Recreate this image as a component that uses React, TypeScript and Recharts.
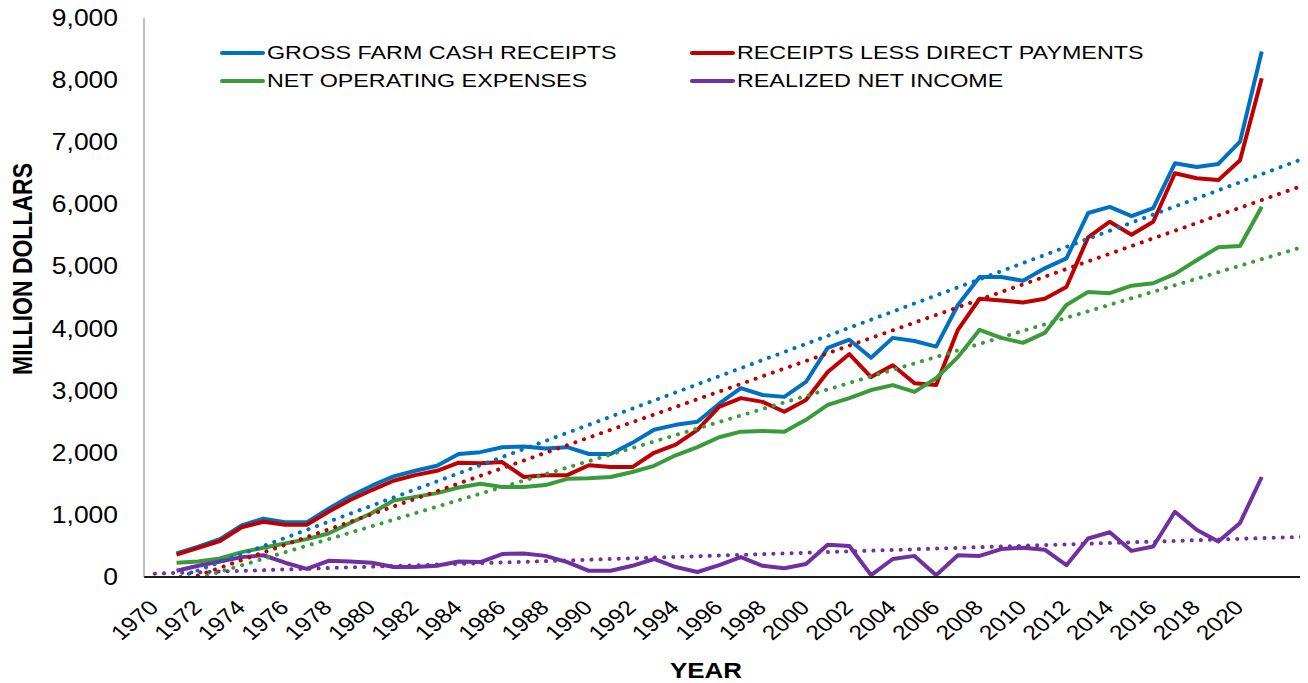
import { LineChart, Line, XAxis, YAxis, Legend } from "recharts";

// farm income series, 1971-2021, million dollars
const firstYear = 1971;
const grossReceipts = [
  380, 490, 610, 830, 940, 880, 880, 1100, 1300, 1470, 1620, 1710, 1790, 1980, 2010, 2090, 2100,
  2070, 2090, 1980, 1980, 2160, 2370, 2450, 2500, 2790, 3040, 2930, 2900, 3140, 3690, 3820, 3530,
  3850, 3800, 3710, 4380, 4830, 4830, 4770, 4970, 5130, 5860, 5960, 5810, 5940, 6660, 6600, 6650,
  7010, 8460,
];
const receiptsLessDirect = [
  360, 470, 580, 800, 890, 840, 840, 1050, 1240, 1400, 1550, 1640, 1710, 1840, 1830, 1850, 1610,
  1640, 1640, 1800, 1770, 1770, 2000, 2130, 2370, 2740, 2880, 2820, 2660, 2850, 3300, 3590, 3220,
  3410, 3120, 3090, 3980, 4480, 4450, 4420, 4480, 4670, 5470, 5720, 5510, 5720, 6500, 6420, 6390,
  6710, 8030,
];
const netOperatingExpenses = [
  230, 250, 300, 400, 470, 540, 610, 700, 870, 1030, 1230, 1290, 1350, 1440, 1500, 1450, 1450,
  1480, 1580, 1590, 1610, 1690, 1790, 1960, 2090, 2250, 2340, 2350, 2340, 2530, 2770, 2880, 3010,
  3090, 2980, 3200, 3540, 3980, 3850, 3770, 3930, 4380, 4590, 4570, 4690, 4730, 4880, 5100, 5310,
  5330, 5960,
];
const realizedNetIncome = [
  100, 180, 250, 320, 350, 230, 130, 260, 250, 230, 160, 160, 180, 250, 240, 370, 380, 340, 240,
  100, 100, 180, 290, 160, 80, 190, 320, 180, 140, 210, 520, 500, 30, 290, 340, 30, 350, 340, 450,
  470, 440, 190, 620, 720, 420, 490, 1050, 760, 570, 870, 1610,
];

const seriesNames = [
  "GROSS FARM CASH RECEIPTS",
  "RECEIPTS LESS DIRECT PAYMENTS",
  "NET OPERATING EXPENSES",
  "REALIZED NET INCOME",
];
const seriesKeys = ["gross", "less", "expenses", "income"];
const seriesColors = ["#0070C0", "#C00000", "#3A9B3A", "#7030A0"];
const allSeries = [grossReceipts, receiptsLessDirect, netOperatingExpenses, realizedNetIncome];

// axis years (trend lines run one year back, two years forward)
const axisStart = 1970;
const axisEnd = 2023;
const yearTicks = Array.from({ length: 26 }, (_, i) => 1970 + i * 2);
const valueTicks = [0, 1000, 2000, 3000, 4000, 5000, 6000, 7000, 8000, 9000];

// least squares fit, like excel's linear trendline
function linearFit(values: number[]) {
  const n = values.length;
  const xs = values.map((_, i) => firstYear + i);
  const mx = xs.reduce((a, b) => a + b, 0) / n;
  const my = values.reduce((a, b) => a + b, 0) / n;
  let sxy = 0;
  let sxx = 0;
  xs.forEach((x, i) => {
    sxy += (x - mx) * (values[i] - my);
    sxx += (x - mx) * (x - mx);
  });
  const slope = sxy / sxx;
  return (year: number) => my + slope * (year - mx);
}

const fits = allSeries.map(linearFit);

const rows = Array.from({ length: axisEnd - axisStart + 1 }, (_, i) => {
  const year = axisStart + i;
  const row: Record<string, number | null> = { year };
  allSeries.forEach((vals, s) => {
    const idx = year - firstYear;
    row[seriesKeys[s]] = idx >= 0 && idx < vals.length ? vals[idx] : null;
    row[seriesKeys[s] + "Trend"] = fits[s](year);
  });
  return row;
});

const FONT = "'Liberation Sans', Arial, sans-serif";
const PLOT_BOTTOM = 577;

const fmt = (n: number) => n.toLocaleString("en-US");

const YTick = (props: any) => (
  <text
    transform={`translate(110,${props.y + 8}) scale(1.15,1)`}
    textAnchor="end"
    fontSize={23}
    fontFamily={FONT}
    fill="#000"
  >
    {fmt(props.payload.value)}
  </text>
);

const XTick = (props: any) => (
  <text
    transform={`translate(${props.x + 5},${PLOT_BOTTOM + 32}) scale(1.2,1) rotate(-45)`}
    textAnchor="end"
    fontSize={20.5}
    fontFamily={FONT}
    fill="#000"
  >
    {props.payload.value}
  </text>
);

const yearTitle = () => (
  <text
    transform={`translate(698,678) scale(1.18,1)`}
    textAnchor="middle"
    fontSize={22}
    fontWeight="bold"
    fontFamily={FONT}
    fill="#000"
  >
    YEAR
  </text>
);

const valueTitle = () => (
  <text
    transform={`translate(24,269) scale(1.2,1) rotate(-90)`}
    textAnchor="middle"
    fontSize={23}
    fontWeight="bold"
    fontFamily={FONT}
    fill="#000"
  >
    MILLION DOLLARS
  </text>
);

const LegendBox = () => {
  const cols = [214, 684];
  const rowsY = [53, 81];
  return (
    <svg width={1300} height={110} style={{ display: "block" }}>
      {seriesNames.map((name, i) => {
        const x = cols[i % 2];
        const y = rowsY[Math.floor(i / 2)];
        return (
          <g key={name}>
            <line
              x1={x}
              x2={x + 41}
              y1={y}
              y2={y}
              stroke={seriesColors[i]}
              strokeWidth={4}
              strokeLinecap="round"
            />
            <text
              transform={`translate(${x + 45},${y + 6}) scale(1.26,1)`}
              fontSize={18.5}
              fontFamily={FONT}
              fill="#000"
            >
              {name}
            </text>
          </g>
        );
      })}
    </svg>
  );
};

export default function App() {
  return (
    <div style={{ width: 1300, height: 683, marginTop: -8, overflow: "hidden", position: "relative" }}>
      <LineChart
        width={1308}
        height={683}
        data={rows}
        margin={{ top: 18, right: 0, left: 0, bottom: 0 }}
      >
        <XAxis
          dataKey="year"
          type="number"
          domain={[axisStart - 0.5, axisEnd + 0.5]}
          ticks={yearTicks}
          interval={0}
          tickLine={false}
          axisLine={{ stroke: "#1a1a1a", strokeWidth: 2 }}
          tick={<XTick />}
          height={106}
          label={yearTitle}
        />
        <YAxis
          domain={[0, 9000]}
          ticks={valueTicks}
          allowDataOverflow
          tickLine={false}
          axisLine={{ stroke: "#7f7f7f", strokeWidth: 1 }}
          tick={<YTick />}
          width={136}
          label={valueTitle}
        />
        <Legend
          layout="vertical"
          align="center"
          verticalAlign="middle"
          wrapperStyle={{ left: 0, top: 0, width: 1300, height: 110 }}
          content={() => <LegendBox />}
        />
        {seriesKeys.map((k, i) => (
          <Line
            key={k}
            dataKey={k}
            name={seriesNames[i]}
            stroke={seriesColors[i]}
            strokeWidth={4}
            dot={false}
            strokeLinejoin="round"
            isAnimationActive={false}
          />
        ))}
        {seriesKeys.map((k, i) => (
          <Line
            key={k + "Trend"}
            dataKey={k + "Trend"}
            legendType="none"
            stroke={seriesColors[i]}
            strokeWidth={4}
            strokeDasharray="0.1 9"
            strokeLinecap="round"
            dot={false}
            isAnimationActive={false}
          />
        ))}
      </LineChart>
    </div>
  );
}
